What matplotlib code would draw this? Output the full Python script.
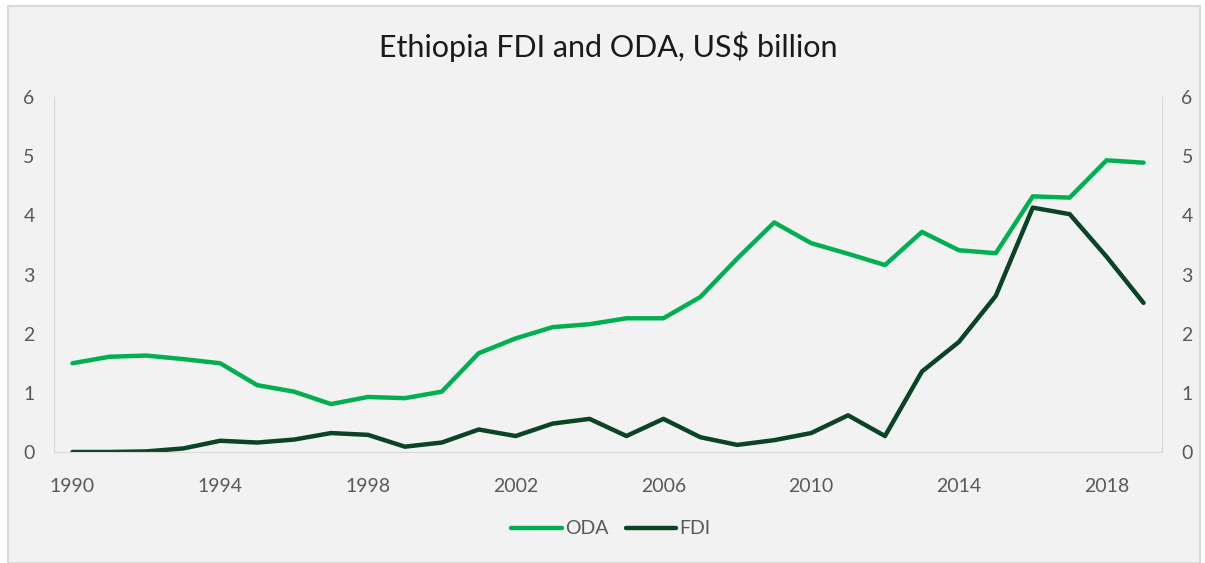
import matplotlib
matplotlib.use("Agg")
import matplotlib.pyplot as plt
from matplotlib.patches import Rectangle

# Ethiopia FDI and ODA, US$ billion
years = list(range(1990, 2020))
oda = [1.50, 1.61, 1.63, 1.57, 1.50, 1.13, 1.02, 0.81, 0.93, 0.91,
       1.02, 1.67, 1.92, 2.11, 2.16, 2.26, 2.26, 2.62, 3.27, 3.88,
       3.53, 3.35, 3.16, 3.72, 3.41, 3.36, 4.32, 4.30, 4.93, 4.89]
fdi = [0.00, 0.00, 0.01, 0.06, 0.19, 0.16, 0.21, 0.32, 0.29, 0.09,
       0.16, 0.38, 0.27, 0.48, 0.56, 0.27, 0.56, 0.25, 0.12, 0.20,
       0.32, 0.62, 0.27, 1.36, 1.86, 2.64, 4.13, 4.02, 3.30, 2.52]
xticks = list(range(1990, 2019, 4))
yticks = [0, 1, 2, 3, 4, 5, 6]

plt.rcParams['font.family'] = ['Lato', 'DejaVu Sans']
bg = '#f2f2f2'
tick_col = '#595959'
spine_col = '#d9d9d9'

fig = plt.figure(figsize=(12.05, 5.63), dpi=100)
fig.patch.set_facecolor('white')
fig.patches.append(Rectangle((8/1205, 0), 1192/1205, 1 - 6/563, transform=fig.transFigure,
                             facecolor=bg, edgecolor='#d9d9d9', linewidth=1.5, zorder=-5))

ax = fig.add_axes([54/1205, 1 - 452/563, (1162 - 54)/1205, (452 - 97)/563])
ax.patch.set_alpha(0)

ax.plot(years, oda, color='#00b050', lw=3.2, label='ODA', solid_joinstyle='round', solid_capstyle='round')
ax.plot(years, fdi, color='#0b4424', lw=3.2, label='FDI', solid_joinstyle='round', solid_capstyle='round')

ax.set_xlim(1989.5, 2019.5)
ax.set_ylim(0, 6)
ax.set_xticks(xticks)
ax.set_yticks(yticks)

ax2 = ax.twinx()
ax2.set_ylim(0, 6)
ax2.set_yticks(yticks)

for a in (ax, ax2):
    for s in a.spines.values():
        s.set_visible(False)
    a.tick_params(length=0, labelsize=14, colors=tick_col)
ax.spines['left'].set_visible(True)
ax.spines['left'].set_color(spine_col)
ax.spines['bottom'].set_visible(True)
ax.spines['bottom'].set_color(spine_col)
ax2.spines['right'].set_visible(True)
ax2.spines['right'].set_color(spine_col)
ax.tick_params(axis='y', pad=14)
ax2.tick_params(axis='y', pad=14)
ax.tick_params(axis='x', pad=19)

fig.text(608/1205, 1 - 47/563, 'Ethiopia FDI and ODA, US$ billion', ha='center', va='center',
         fontsize=22, color='#1a1a1a')

leg = ax.legend(loc='center', bbox_to_anchor=(611/1205, 1 - 529/563), bbox_transform=fig.transFigure,
                ncol=2, frameon=False, fontsize=14, handlelength=2.6, handletextpad=0.15,
                columnspacing=0.9, labelcolor=tick_col)

fig.savefig('out.png', dpi=100, facecolor=fig.get_facecolor())
